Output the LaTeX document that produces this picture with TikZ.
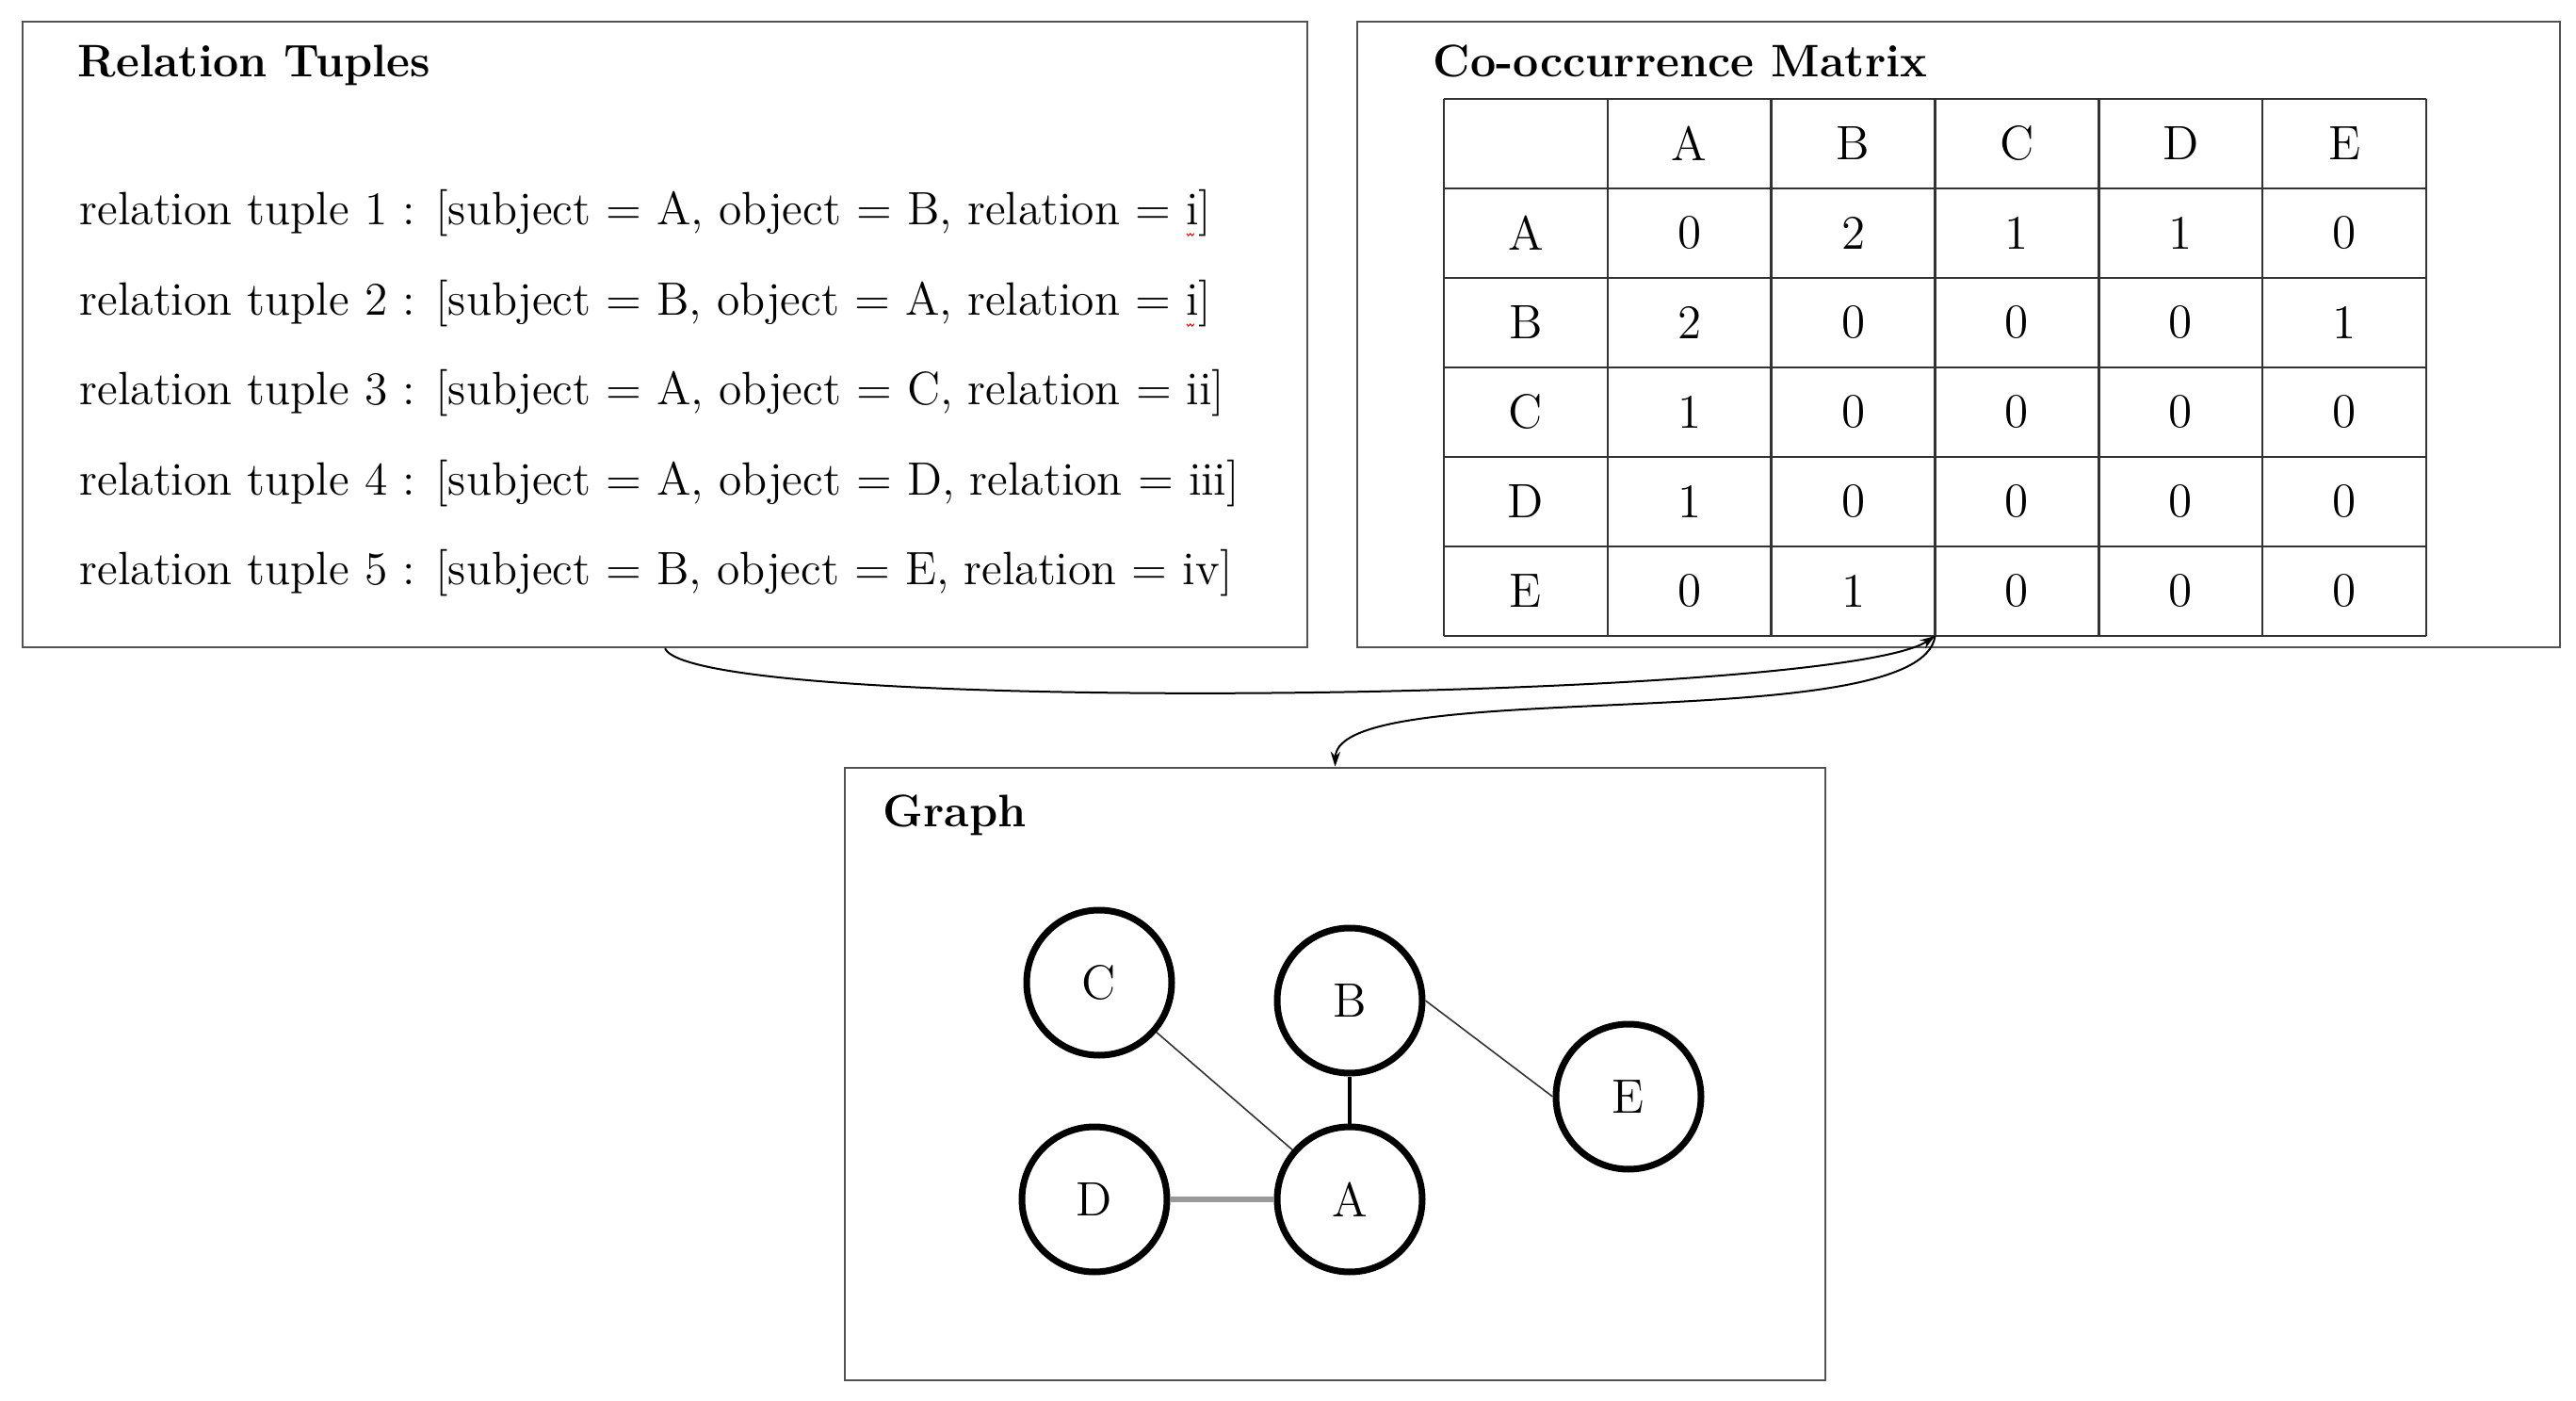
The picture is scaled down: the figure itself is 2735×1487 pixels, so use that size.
\documentclass[tikz,border=0pt]{standalone}
\usetikzlibrary{arrows.meta}
\newcommand\redsquig{\rlap{\tikz[baseline=0pt,x=1pt,y=1pt]{\draw[red,line width=0.25pt] (0.2,-2.2)--(0.7,-2.8)--(1.2,-2.2)--(1.7,-2.8)--(2.2,-2.2);}}}
\begin{document}
\begin{tikzpicture}[x=0.25pt,y=-0.25pt,
  panel/.style={draw=black!68, line width=0.65pt, rectangle, inner sep=0},
  ttl/.style={font=\fontsize{12.1}{14}\selectfont\bfseries, inner sep=0, anchor=base west},
  tup/.style={font=\fontsize{12.4}{14}\selectfont, inner sep=0, anchor=base west},
  cell/.style={font=\fontsize{12.8}{14}\selectfont, inner sep=0},
  gridline/.style={line width=0.65pt, draw=black!80},
  vtx/.style={circle, draw, line width=1.75pt, minimum size=38.5pt, inner sep=0, font=\fontsize{12.8}{14}\selectfont},
  conn/.style={line width=0.5pt, -{Stealth[length=4pt,width=2.6pt]}},
]
\useasboundingbox (0,0) rectangle (2735,1487);

% panels
\node[panel, minimum width=341pt, minimum height=166pt] (lt) at (706,355) {};
\node[panel, minimum width=319.25pt, minimum height=166pt] (rt) at (2079.5,355) {};
\node[panel, minimum width=260.25pt, minimum height=162.5pt] (gr) at (1417.5,1140) {};

% titles
\node[ttl] (t1) at (82,82) {Relation Tuples};
\node[ttl] (t2) at (1521,82) {Co-occurrence Matrix};
\node[ttl] (t3) at (937,877) {Graph};

% tuples
\node[tup] (r1) at (84,239) {relation tuple 1 : [subject = A, object = B, relation = \redsquig i]};
\node[tup] (r2) at (84,335) {relation tuple 2 : [subject = B, object = A, relation = \redsquig i]};
\node[tup] (r3) at (84,430) {relation tuple 3 : [subject = A, object = C, relation = ii]};
\node[tup] (r4) at (84,526) {relation tuple 4 : [subject = A, object = D, relation = iii]};
\node[tup] (r5) at (84,621) {relation tuple 5 : [subject = B, object = E, relation = iv]};

% table grid
\foreach \i in {0,...,6} {
  \draw[gridline] (1533+173.83*\i,105) -- (1533+173.83*\i,675);
  \draw[gridline] (1533,105+95*\i) -- (2576,105+95*\i);
}
% header
\foreach \l [count=\c] in {A,B,C,D,E} {
  \node[cell] (h-\c) at (1533+173.83*\c+86.9,152.5) {\l};
  \node[cell] (v-\c) at (1533+86.9,152.5+95*\c) {\l};
}
\foreach \row [count=\r] in {{0,2,1,1,0},{2,0,0,0,1},{1,0,0,0,0},{1,0,0,0,0},{0,1,0,0,0}} {
  \foreach \v [count=\c] in \row {
    \node[cell] (m-\r-\c) at (1533+173.83*\c+86.9,152.5+95*\r) {\v};
  }
}
\coordinate (tb) at (2054.5,675);

% connectors
\draw[conn] (lt.south) .. controls (740,760) and (1950,745) .. (tb);
\draw[conn] (tb) .. controls (2040,785) and (1420,715) .. (gr.north);

% graph
\node[vtx] (C) at (1167,1043) {C};
\node[vtx] (B) at (1433,1062) {B};
\node[vtx] (E) at (1729,1164) {E};
\node[vtx] (D) at (1162,1273) {D};
\node[vtx] (A) at (1433,1273) {A};

\draw[line width=1.2pt] (B) -- (A);
\draw[line width=0.4pt, black!80] (C) -- (A);
\draw[line width=0.4pt, black!80] (B.east) -- (E.west);
\draw[line width=1.3pt, black!40] (D) -- (A);
\end{tikzpicture}
\end{document}
